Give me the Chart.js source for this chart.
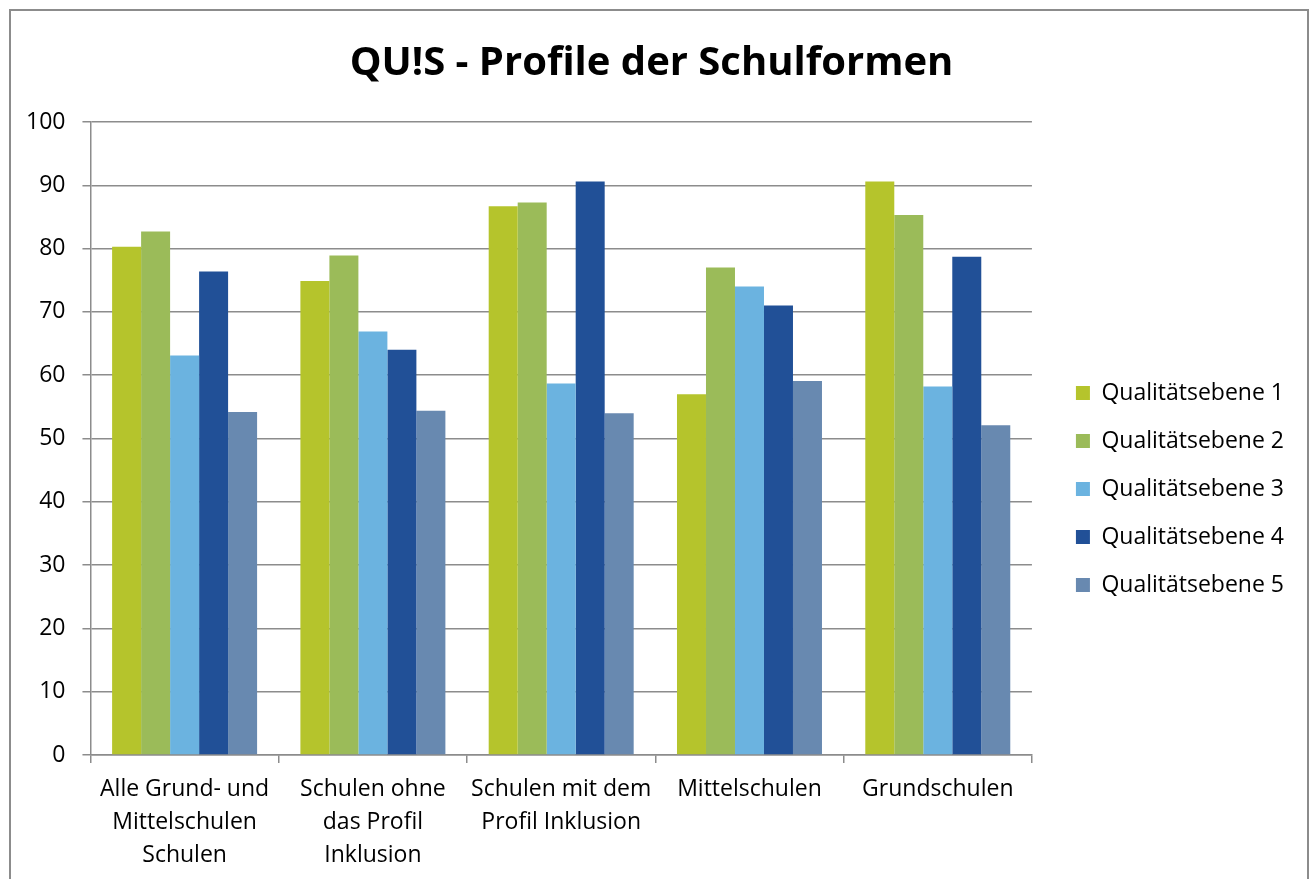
<!DOCTYPE html>
<html>
<head>
<meta charset="utf-8">
<script src="https://cdn.jsdelivr.net/npm/chart.js@4/dist/chart.umd.min.js"></script>
<style>
    html, body { margin: 0; padding: 0; background: #fff; overflow: hidden; }
    #wrap { position: absolute; left: 0; top: 0; width: 1311px; height: 879px; }
    #frame { position: absolute; left: 9px; top: 9px; width: 1296px; height: 1000px; border: 2px solid #8c8c8c; pointer-events: none; }
</style>
</head>
<body>
<div id="wrap"><canvas id="chart"></canvas></div>
<div id="frame"></div>
<script>
// Categories (x axis), multi-line labels as in the original
const categories = [
    ['Alle Grund- und', 'Mittelschulen', 'Schulen'],
    ['Schulen ohne', 'das Profil', 'Inklusion'],
    ['Schulen mit dem', 'Profil Inklusion'],
    ['Mittelschulen'],
    ['Grundschulen']
];

const seriesNames = ['Qualitätsebene 1', 'Qualitätsebene 2', 'Qualitätsebene 3', 'Qualitätsebene 4', 'Qualitätsebene 5'];

// values
const ebene1 = [80.3, 74.9, 86.7, 57.0, 90.6];
const ebene2 = [82.7, 78.9, 87.3, 77.0, 85.3];
const ebene3 = [63.1, 66.9, 58.7, 74.0, 58.2];
const ebene4 = [76.4, 64.0, 90.6, 71.0, 78.7];
const ebene5 = [54.2, 54.4, 54.0, 59.1, 52.1];

const colors = ['#b5c42c', '#9bbb59', '#6bb3e0', '#215097', '#6889b0'];

const yMin = 0;
const yMax = 100;
const yStep = 10;

const gridColor = '#8c8c8c';
const fontFamily = '"Open Sans", sans-serif';

function drawChart() {
    const datasets = [ebene1, ebene2, ebene3, ebene4, ebene5].map((values, i) => ({
        label: seriesNames[i],
        data: values,
        backgroundColor: colors[i],
        borderWidth: 0,
        barPercentage: 1,
        categoryPercentage: 0.77
    }));

    new Chart(document.getElementById('chart').getContext('2d'), {
        type: 'bar',
        data: { labels: categories, datasets: datasets },
        options: {
            responsive: true,
            maintainAspectRatio: false,
            animation: false,
            layout: { padding: { left: 9, right: 17, top: 0, bottom: -3 } },
            plugins: {
                tooltip: { enabled: false },
                title: {
                    display: true,
                    text: 'QU!S - Profile der Schulformen',
                    color: '#000',
                    font: { family: fontFamily, size: 40, weight: 'bold' },
                    padding: { top: 40, bottom: 34 }
                },
                legend: {
                    position: 'right',
                    maxWidth: 400,
                    // empty title only pushes the items down a bit
                    title: { display: true, text: ' ', font: { size: 12 }, padding: { top: 40.8, bottom: 40.8 } },
                    labels: {
                        color: '#000',
                        font: { family: fontFamily, size: 23 },
                        boxWidth: 14,
                        boxHeight: 14,
                        padding: 25
                    }
                }
            },
            scales: {
                x: {
                    grid: { display: true, drawOnChartArea: false, drawTicks: true, tickLength: 8, color: gridColor, lineWidth: 1.5 },
                    border: { color: gridColor, width: 1.5 },
                    ticks: {
                        color: '#000',
                        font: { family: fontFamily, size: 23, lineHeight: 1.435 },
                        padding: 10,
                        maxRotation: 0,
                        autoSkip: false
                    }
                },
                y: {
                    min: yMin,
                    max: yMax,
                    grid: { color: gridColor, lineWidth: 1.5, tickLength: 8 },
                    border: { color: gridColor, width: 1.5 },
                    ticks: {
                        stepSize: yStep,
                        color: '#000',
                        font: { family: fontFamily, size: 23 },
                        padding: 17
                    }
                },
                // spacer between plot and legend
                pad: {
                    position: 'right',
                    display: true,
                    grid: { display: false },
                    border: { display: false },
                    ticks: { display: false },
                    afterFit: (scale) => { scale.width = 19; }
                }
            }
        }
    });
}

// make sure the font is there before Chart.js measures text
Promise.all([
    document.fonts.load('23px "Open Sans"'),
    document.fonts.load('bold 40px "Open Sans"')
]).then(drawChart, drawChart);
</script>
</body>
</html>
